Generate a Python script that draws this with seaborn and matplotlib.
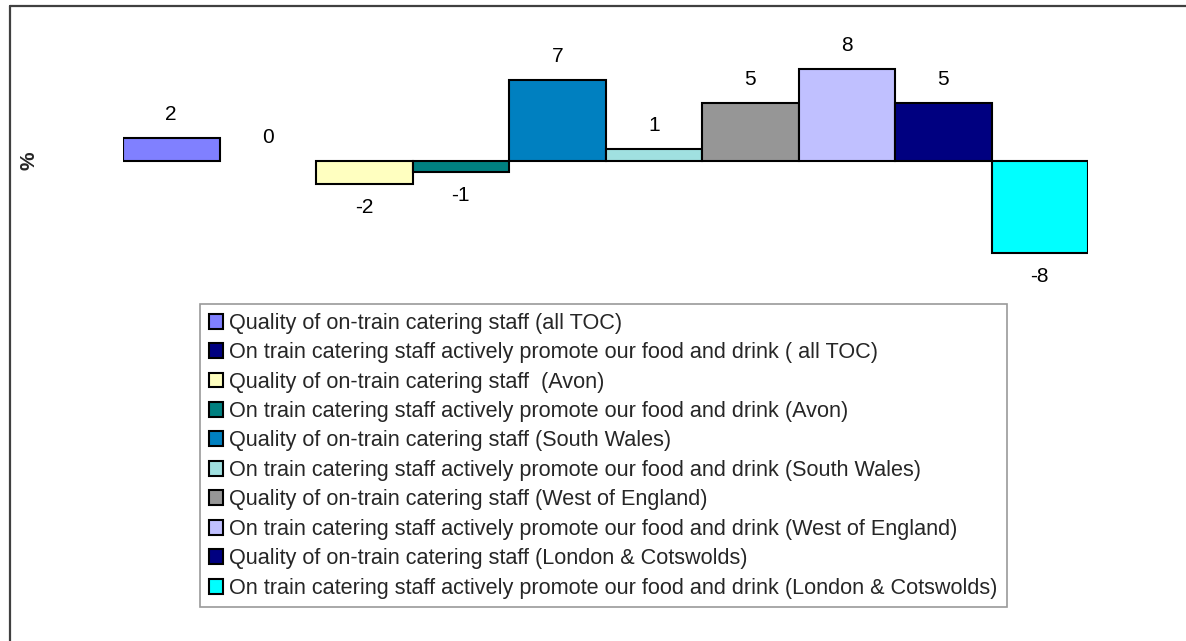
import matplotlib
matplotlib.use("Agg")
import matplotlib.pyplot as plt
import seaborn as sns
import pandas as pd
from matplotlib.patches import Patch
from matplotlib.lines import Line2D

categories = [
    "Quality of on-train catering staff (all TOC)",
    "On train catering staff actively promote our food and drink ( all TOC)",
    "Quality of on-train catering staff  (Avon)",
    "On train catering staff actively promote our food and drink (Avon)",
    "Quality of on-train catering staff (South Wales)",
    "On train catering staff actively promote our food and drink (South Wales)",
    "Quality of on-train catering staff (West of England)",
    "On train catering staff actively promote our food and drink (West of England)",
    "Quality of on-train catering staff (London & Cotswolds)",
    "On train catering staff actively promote our food and drink (London & Cotswolds)",
]
values = [2, 0, -2, -1, 7, 1, 5, 8, 5, -8]
colors = ["#8080FF", "#000080", "#FFFFC0", "#008080", "#0080C0",
          "#A0E0E0", "#969696", "#C0C0FF", "#000080", "#00FFFF"]
y_label = "%"

df = pd.DataFrame({"category": categories, "value": values})

sns.set_theme(style="white")
plt.rcParams["font.family"] = ["Liberation Sans", "DejaVu Sans"]

W, H = 1186, 641
fig = plt.figure(figsize=(W / 100, H / 100), dpi=100)

# axes placement (pixels)
ax_left, ax_right = 123, 1088
ax_top, ax_bottom = 20, 290
ax = fig.add_axes([ax_left / W, 1 - ax_bottom / H,
                   (ax_right - ax_left) / W, (ax_bottom - ax_top) / H])

sns.barplot(data=df, x="category", y="value", hue="category",
            palette=colors, order=categories, hue_order=categories,
            width=1.0, dodge=False, legend=False, saturation=1,
            edgecolor="black", linewidth=1.5, ax=ax)

for p in ax.patches:
    if p.get_height() == 0:
        p.set_linewidth(0)

for cont in ax.containers:
    ax.bar_label(cont, fmt="%g", padding=10, fontsize=15, color="black")

ax.set_xlim(-0.5, len(categories) - 0.5)
ax.set_ylim(-11.24, 12.23)
ax.set_xticks([])
ax.set_yticks([])
ax.set_xlabel("")
ax.set_ylabel("")
for s in ax.spines.values():
    s.set_visible(False)
ax.patch.set_alpha(0)

fig.text(29 / W, 1 - 161 / H, y_label, rotation=90, fontsize=15,
         fontweight="bold", ha="center", va="center")

handles = [Patch(facecolor=c, edgecolor="black", linewidth=1.5) for c in colors]
leg = fig.legend(handles, categories, loc="upper left",
                 bbox_to_anchor=(200 / W, 1 - 304 / H),
                 bbox_transform=fig.transFigure,
                 frameon=True, fancybox=False, fontsize=15.6,
                 handlelength=0.68, handleheight=0.68, handletextpad=0.28,
                 labelspacing=0.39, borderpad=0.4, borderaxespad=0)
leg.get_frame().set_edgecolor("#808080")
leg.get_frame().set_linewidth(1.2)

# outer chart border (left and top edges visible)
fig.add_artist(Line2D([10 / W, 10 / W], [0, 1 - 6 / H], transform=fig.transFigure,
                      color="#404040", linewidth=1.6))
fig.add_artist(Line2D([10 / W, 1], [1 - 6 / H, 1 - 6 / H], transform=fig.transFigure,
                      color="#404040", linewidth=1.6))

fig.savefig("out.png", dpi=100)
